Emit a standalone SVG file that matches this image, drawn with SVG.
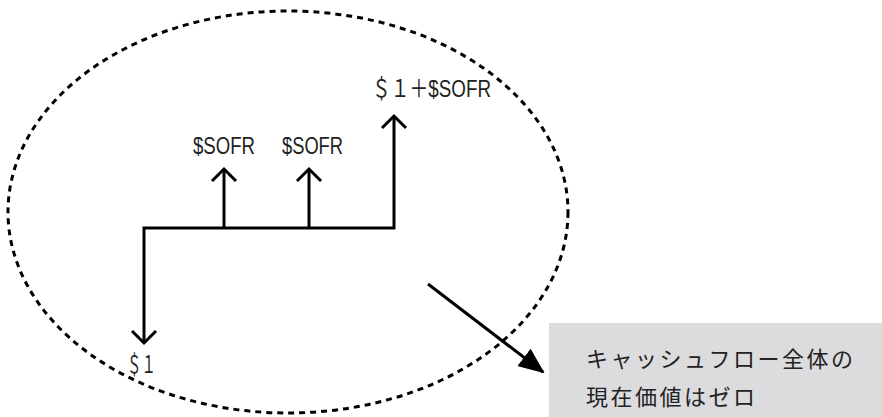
<svg xmlns="http://www.w3.org/2000/svg" width="882" height="417" viewBox="0 0 882 417">
<style>
.ln{fill:none;stroke:#000;stroke-width:3}
.lbl{font-family:"Liberation Sans","Noto Sans CJK JP",sans-serif;font-size:24px;fill:#222}
.jp{font-family:"Noto Sans CJK JP","Noto Sans",sans-serif;font-size:22px;fill:#222;letter-spacing:2.5px}
</style>
<defs>
<marker id="fill" viewBox="0 0 26 22" refX="24" refY="11" markerWidth="26" markerHeight="22" markerUnits="userSpaceOnUse" orient="auto">
<path d="M0,0 L26,11 L0,22 Z" fill="#000"/>
</marker>
</defs>
<g id="boundary">
<ellipse cx="288" cy="212" rx="280" ry="201" fill="none" stroke="#000" stroke-width="3" stroke-dasharray="6 5"/>
</g>
<g id="connectors">
<polyline class="ln" points="144,343 144,228 394,228 394,118"/>
<path class="ln" d="M132,331 L144,343 L156,331"/>
<path class="ln" d="M382,128 L394,116 L406,128"/>
<line class="ln" x1="224" y1="228" x2="224" y2="170"/>
<path class="ln" d="M212,181 L224,169 L236,181"/>
<line class="ln" x1="309" y1="228" x2="309" y2="170"/>
<path class="ln" d="M297,181 L309,169 L321,181"/>
<line x1="428" y1="284" x2="543" y2="372" stroke="#000" stroke-width="3" marker-end="url(#fill)"/>
</g>
<g id="label-sofr1"><text class="lbl" x="193" y="154" textLength="62" lengthAdjust="spacingAndGlyphs">$SOFR</text></g>
<g id="label-sofr2"><text class="lbl" x="282" y="154" textLength="61" lengthAdjust="spacingAndGlyphs">$SOFR</text></g>
<g id="label-final"><text class="lbl" x="372" y="97" textLength="119" lengthAdjust="spacingAndGlyphs">＄１＋$SOFR</text></g>
<g id="label-start"><text class="lbl" x="127" y="373" textLength="29" lengthAdjust="spacingAndGlyphs">＄１</text></g>
<g id="note">
<rect x="549" y="323" width="333" height="94" fill="#dcdcde"/>
<text class="jp" x="586" y="367">キャッシュフロー全体の</text>
<text class="jp" x="586" y="405">現在価値はゼロ</text>
</g>
</svg>
